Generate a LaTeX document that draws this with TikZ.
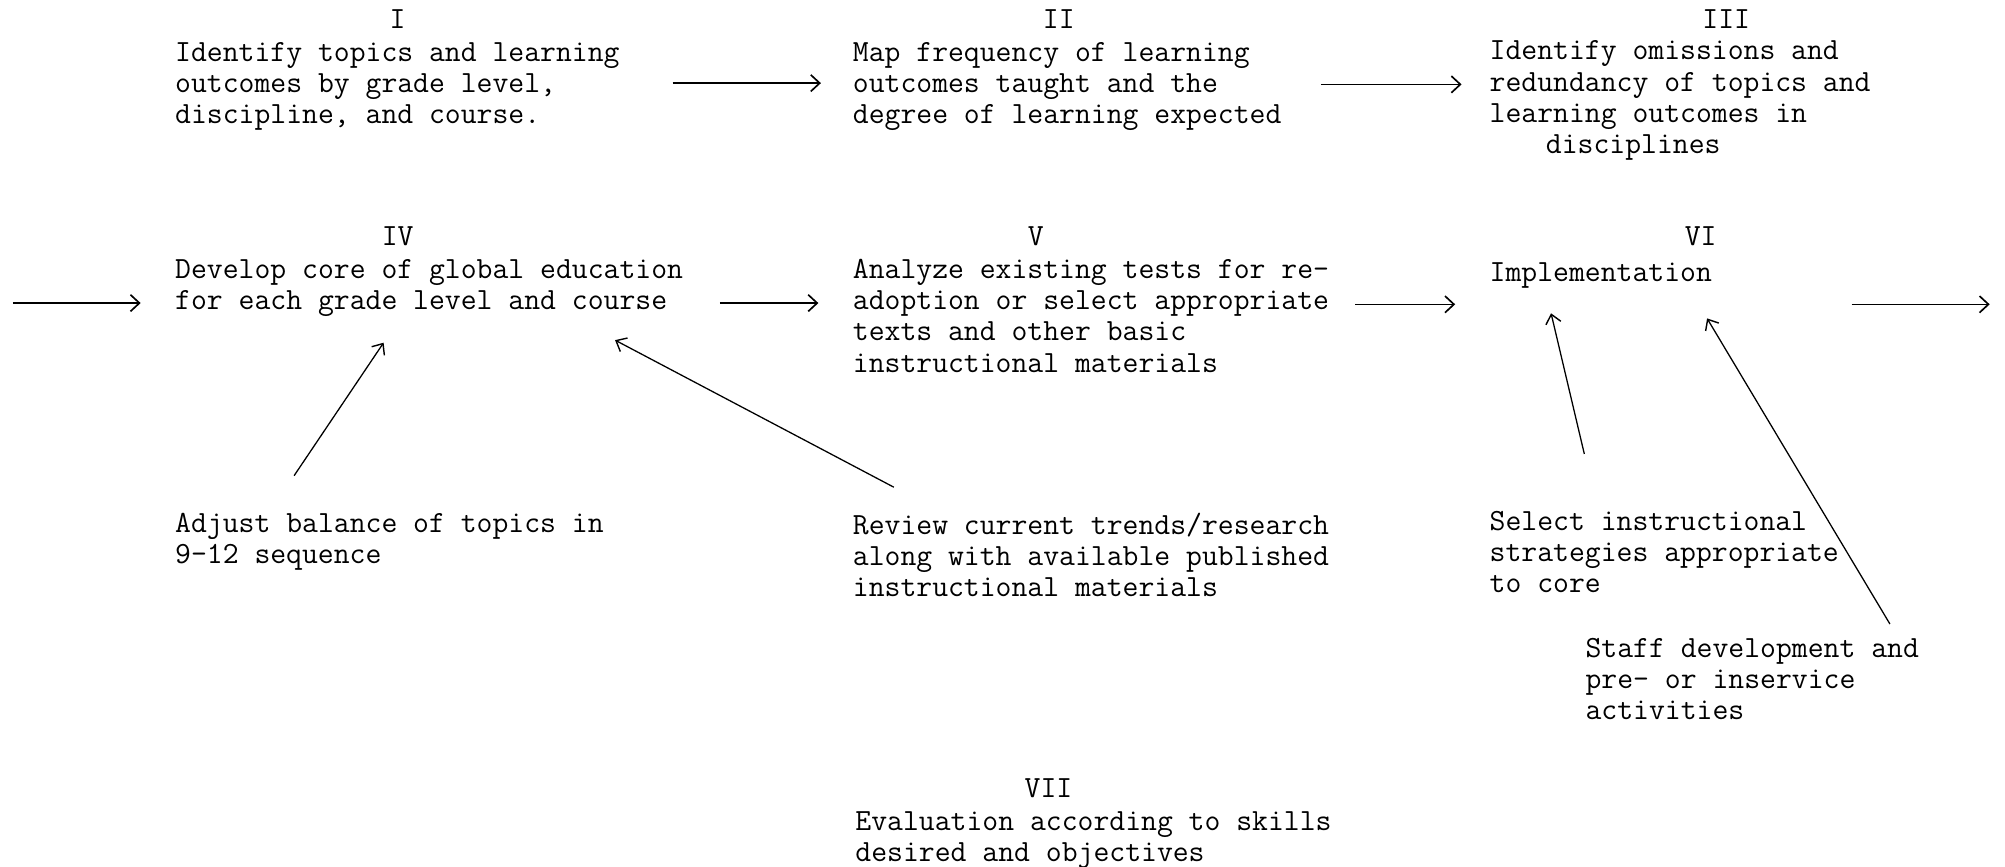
\documentclass[tikz,border=0pt]{standalone}
\usepackage{fontspec}
\usetikzlibrary{arrows.meta}

\begin{document}
\begin{tikzpicture}[x=1pt,y=-1pt,
  txt/.style={anchor=north west,inner sep=0pt,outer sep=0pt,align=left,
    font=\ttfamily\fontsize{24.1}{24.3}\selectfont,execute at begin node=\strut},
  numeral/.style={anchor=base,inner sep=0pt,font=\ttfamily\fontsize{24.1}{24.3}\selectfont},
  arr/.style={line width=1.3pt,-{Straight Barb[length=7pt,width=13pt,line width=1.3pt]}},
  darr/.style={line width=1pt,-{Straight Barb[length=7pt,width=12pt,line width=1.1pt]}}]
\useasboundingbox (0,0) rectangle (1568,678);

% first row
\node[numeral] (nI)   at (311,22)  {I};
\node[txt]     (tI)   at (137,33)  {Identify topics and learning\\outcomes by grade level,\\discipline, and course.};
\node[numeral] (nII)  at (828,22)  {II};
\node[txt]     (tII)  at (667,33)  {Map frequency of learning\\outcomes taught and the\\degree of learning expected};
\node[numeral] (nIII) at (1350,22) {III};
\node[txt]     (tIII) at (1165,32) {Identify omissions and\\redundancy of topics and\\learning outcomes in\\\hspace*{44pt}disciplines};

% second row
\coordinate (in0) at (10,237);
\node[numeral] (nIV)  at (311,192) {IV};
\node[txt]     (tIV)  at (137,203) {Develop core of global education\\for each grade level and course};
\node[numeral] (nV)   at (810,192) {V};
\node[txt]     (tV)   at (667,203) {Analyze existing tests for re-\\adoption or select appropriate\\texts and other basic\\instructional materials};
\node[numeral] (nVI)  at (1330,192) {VI};
\node[txt]     (tVI)  at (1165,203) {Implementation};
\coordinate (out0) at (1556,238);

% supporting activities
\node[txt] (adj)    at (137,401)  {Adjust balance of topics in\\9-12 sequence};
\node[txt] (rev)    at (667,401)  {Review current trends/research\\along with available published\\instructional materials};
\node[txt] (sel)    at (1165,400) {Select instructional\\strategies appropriate\\to core};
\node[txt] (staff)  at (1240,499) {Staff development and\\pre- or inservice\\activities};

% evaluation
\node[numeral] (nVII) at (820,624) {VII};
\node[txt]     (tVII) at (669,635) {Evaluation according to skills\\desired and objectives};

% main sequence
\draw[arr] ([shift={(389,32)}]tI.north west)  -- ([shift={(-25,32)}]tII.north west);
\draw[arr] ([shift={(366,33)}]tII.north west) -- ([shift={(-22,34)}]tIII.north west);
\draw[arr] (in0) -- ([shift={(-27,34)}]tIV.north west);
\draw[arr] ([shift={(426,34)}]tIV.north west) -- ([shift={(-27,34)}]tV.north west);
\draw[arr] ([shift={(393,35)}]tV.north west)  -- ([shift={(-27,35)}]tVI.north west);
\draw[arr] ([shift={(283,35)}]tVI.north west) -- (out0);

% feeders
\draw[darr] ([shift={(93,-29)}]adj.north west)   -- ([shift={(163,65)}]tIV.north west);
\draw[darr] ([shift={(32,-20)}]rev.north west)   -- ([shift={(344,63)}]tIV.north west);
\draw[darr] ([shift={(74,-45)}]sel.north west)   -- ([shift={(48,42)}]tVI.north west);
\draw[darr] ([shift={(238,-11)}]staff.north west) -- ([shift={(170,46)}]tVI.north west);
\end{tikzpicture}
\end{document}
